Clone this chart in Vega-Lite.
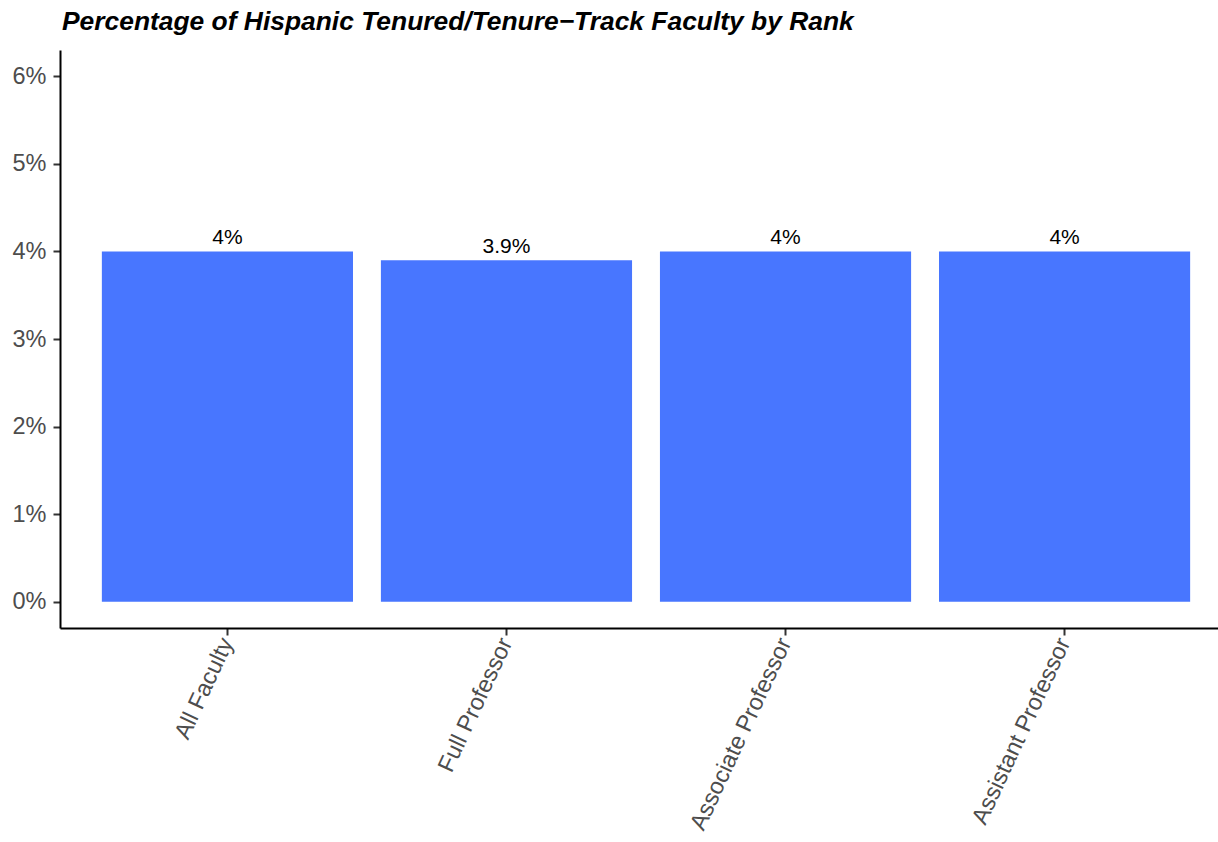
{
  "$schema": "https://vega.github.io/schema/vega-lite/v6.json",
  "autosize": {"type": "none"},
  "width": 1158,
  "height": 578,
  "padding": {"left": 60, "top": 50, "right": 0, "bottom": 214},
  "background": "white",
  "title": {
    "text": "Percentage of Hispanic Tenured/Tenure−Track Faculty by Rank",
    "anchor": "start",
    "frame": "group",
    "font": "Liberation Sans",
    "fontSize": 26.4,
    "fontWeight": "bold",
    "fontStyle": "italic",
    "color": "black",
    "offset": 15,
    "dx": 2
  },
  "config": {
    "view": {"stroke": null},
    "axis": {"grid": false}
  },
  "data": {
    "values": [
      {"rank": "All Faculty", "pct": 4.0, "label": "4%"},
      {"rank": "Full Professor", "pct": 3.9, "label": "3.9%"},
      {"rank": "Associate Professor", "pct": 4.0, "label": "4%"},
      {"rank": "Assistant Professor", "pct": 4.0, "label": "4%"}
    ]
  },
  "encoding": {
    "x": {
      "field": "rank",
      "type": "nominal",
      "sort": null,
      "scale": {"paddingInner": 0.1, "paddingOuter": 0.15, "range": [0, 1172]},
      "axis": {
        "title": null,
        "labelAngle": -65,
        "labelAlign": "right",
        "labelBaseline": "middle",
        "labelFont": "Liberation Sans",
        "labelFontSize": 23.5,
        "labelLimit": 0,
        "labelColor": "#4D4D4D",
        "labelPadding": 4,
        "tickColor": "#333333",
        "tickWidth": 2,
        "tickSize": 7,
        "domainColor": "black",
        "domainWidth": 2
      }
    },
    "y": {
      "field": "pct",
      "type": "quantitative",
      "scale": {"domain": [-0.3, 6.3], "nice": false, "zero": false},
      "axis": {
        "title": null,
        "values": [0, 1, 2, 3, 4, 5, 6],
        "labelExpr": "datum.value + '%'",
        "labelFont": "Liberation Sans",
        "labelFontSize": 23.5,
        "labelColor": "#4D4D4D",
        "labelPadding": 7,
        "tickColor": "#333333",
        "tickWidth": 2,
        "tickSize": 7,
        "domainColor": "black",
        "domainWidth": 2
      }
    }
  },
  "layer": [
    {
      "mark": {"type": "bar", "color": "#4876FF"},
      "encoding": {"y2": {"datum": 0}}
    },
    {
      "mark": {
        "type": "text",
        "baseline": "alphabetic",
        "dy": -7,
        "font": "Liberation Sans",
        "fontSize": 21,
        "color": "black"
      },
      "encoding": {"text": {"field": "label"}}
    }
  ]
}
